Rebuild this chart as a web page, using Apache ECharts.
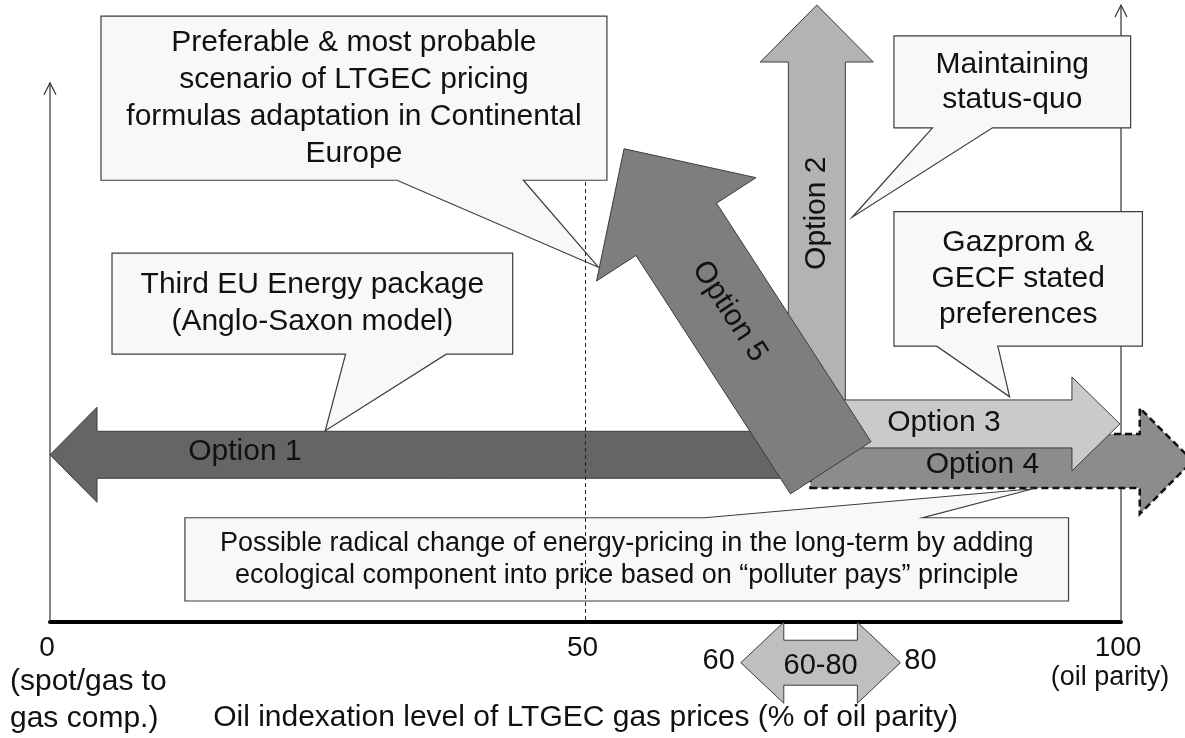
<!DOCTYPE html>
<html><head><meta charset="utf-8">
<script src="https://cdn.jsdelivr.net/npm/echarts@6/dist/echarts.min.js"></script>
<style>html,body{margin:0;padding:0;background:#fff}#c{width:1185px;height:738px}</style>
</head><body><div id="c"></div>
<script>
// ---------------- data ----------------
const xTicks = [0, 50, 100];
const xTickNotes = ['(spot/gas to\ngas comp.)', '', '(oil parity)'];
const xAxisTitle = 'Oil indexation level of LTGEC gas prices (% of oil parity)';
const benchmarkX = [50];
const axisReachY = [87.4, 100];            // left / right vertical axes reach
const optionNames  = ['Option 1', 'Option 4', 'Option 2', 'Option 3', 'Option 5'];
const optionStartX = [70.0, 71.0, 71.6, 68.9, 72.9];
const optionStartY = [27.1, 26.1, 28.2, 32.1, 25.0];
const optionEndX   = [0.0, 106.7, 71.6, 99.9, 53.6];
const optionEndY   = [27.1, 26.1, 100.0, 32.1, 76.7];
const rangeEnds  = [64.5, 79.4];
const rangeLevel = [-6.6];
const rangeLabels = ['60', '60-80', '80'];
const calloutTexts = [
  'Preferable & most probable\nscenario of LTGEC pricing\nformulas adaptation in Continental\nEurope',
  'Third EU Energy package\n(Anglo-Saxon model)',
  'Maintaining\nstatus-quo',
  'Gazprom &\nGECF stated\npreferences',
  'Possible radical change of energy-pricing in the long-term by adding\necological component into price based on \u201cpolluter pays\u201d principle'
];

// ---------------- layout & style (kept apart from the data) ----------------
const FONT = '"Liberation Sans", Arial, sans-serif';
const INK = '#111';
const EDGE = '#3c3c3c';
const ARROW_STYLE = [
  {fill: '#656565', shaft: 23.5, head: 47.5, headLen: 47, at: 0.74, dx: 0, dy: -3},
  {fill: '#8c8c8c', shaft: 27, head: 53, headLen: 53, at: 0.45, dx: 0, dy: 4, dashed: true},
  {fill: '#b3b3b3', shaft: 28.5, head: 56.5, headLen: 57, at: 0.53, dx: 0, dy: 0},
  {fill: '#cacaca', shaft: 24, head: 47, headLen: 48, at: 0.47, dx: 0, dy: -1},
  {fill: '#7e7e7e', shaft: 48, head: 95, headLen: 96, at: 0.49, dx: 0, dy: 0}
];
// callout boxes in data units: [left, top, right, bottom], pointer base x's, pointer tip
const CALLOUT_LAYOUT = [
  {box: [4.76, 98.2, 52.0, 71.6], base: [32.4, 44.2], tip: [51.2, 57.5], size: 30, lh: 37},
  {box: [5.79, 59.8, 43.2, 43.4], base: [27.6, 37.0], tip: [25.7, 31.0], size: 30, lh: 37},
  {box: [78.8, 95.0, 100.9, 80.1], base: [82.4, 88.0], tip: [74.9, 65.6], size: 30, lh: 35},
  {box: [78.8, 66.5, 102.0, 44.7], base: [82.8, 88.5], tip: [89.6, 36.5], size: 30, lh: 36},
  {box: [12.6, 16.9, 95.1, 3.4], base: [61.1, 81.5], tip: [91.8, 21.6], size: 27, lh: 32}
];

function arrowPoints(p0, p1, w, h, L) {
  const dx = p1[0] - p0[0], dy = p1[1] - p0[1];
  const len = Math.hypot(dx, dy);
  const ux = dx / len, uy = dy / len, nx = -uy, ny = ux;
  const bx = p1[0] - ux * L, by = p1[1] - uy * L;
  return [
    [p0[0] + nx * w, p0[1] + ny * w],
    [bx + nx * w, by + ny * w],
    [bx + nx * h, by + ny * h],
    [p1[0], p1[1]],
    [bx - nx * h, by - ny * h],
    [bx - nx * w, by - ny * w],
    [p0[0] - nx * w, p0[1] - ny * w]
  ];
}

const arrowData = optionNames.map((n, i) => [optionStartX[i], optionStartY[i], optionEndX[i], optionEndY[i]]);
const calloutData = calloutTexts.map((t, i) => [i]);

const chart = echarts.init(document.getElementById('c'));
chart.setOption({
  animation: false,
  backgroundColor: '#ffffff',
  grid: {left: 50, right: 64, top: 5, bottom: 116, containLabel: false, outerBoundsMode: 'none'},
  xAxis: {
    type: 'value', min: 0, max: 100, interval: 50,
    axisLine: {show: true, lineStyle: {color: '#000', width: 4}},
    axisTick: {show: false}, splitLine: {show: false},
    axisLabel: {
      show: true, margin: 12, showMinLabel: true, showMaxLabel: true,
      formatter: function (v) {
        const i = xTicks.indexOf(v);
        if (i < 0) return '';
        return (i === 2 && xTickNotes[2]) ? '{n|' + v + '}\n{s|' + xTickNotes[2] + '}' : '{n|' + v + '}';
      },
      rich: {
        n: {fontSize: 28, fontFamily: FONT, color: INK, lineHeight: 28, padding: [0, 6, 0, 0]},
        s: {fontSize: 27, fontFamily: FONT, color: INK, lineHeight: 32, padding: [0, 22, 0, 0]}
      }
    },
    name: xAxisTitle, nameLocation: 'middle', nameGap: 81,
    nameTextStyle: {fontSize: 30, fontFamily: FONT, color: INK}
  },
  yAxis: {type: 'value', min: 0, max: 100, show: false},
  series: [
    { // vertical axes with open arrowheads
      type: 'custom', z: 1, data: axisReachY.map((r, i) => [i === 0 ? 0 : 100, r]),
      encode: {x: 0, y: 1},
      renderItem: function (params, api) {
        const b = api.coord([api.value(0), 0]);
        const t = api.coord([api.value(0), api.value(1)]);
        const st = {stroke: '#333', lineWidth: 1.2, fill: null};
        return {type: 'group', children: [
          {type: 'line', shape: {x1: b[0], y1: b[1], x2: t[0], y2: t[1]}, style: st},
          {type: 'polyline', shape: {points: [[t[0] - 6, t[1] + 12], t, [t[0] + 6, t[1] + 12]]}, style: st}
        ]};
      }
    },
    { // option arrows
      type: 'custom', z: 2, data: arrowData, encode: {x: [0, 2], y: [1, 3]},
      renderItem: function (params, api) {
        const i = params.dataIndex, s = ARROW_STYLE[i];
        const p0 = api.coord([api.value(0), api.value(1)]);
        const p1 = api.coord([api.value(2), api.value(3)]);
        const pts = arrowPoints(p0, p1, s.shaft, s.head, s.headLen);
        let rx = p1[0] - p0[0], ry = p1[1] - p0[1];
        if (rx < -1e-6 || (Math.abs(rx) < 1e-6 && ry > 0)) { rx = -rx; ry = -ry; }
        const rot = -Math.atan2(ry, rx);
        const lx = p0[0] + (p1[0] - p0[0]) * s.at + s.dx;
        const ly = p0[1] + (p1[1] - p0[1]) * s.at + s.dy;
        return {type: 'group', children: [
          {type: 'polygon', shape: {points: pts},
            style: s.dashed ? {fill: s.fill, stroke: '#111', lineWidth: 2.5, lineDash: [7, 4]}
                            : {fill: s.fill, stroke: EDGE, lineWidth: 1}},
          {type: 'text', x: lx, y: ly, rotation: rot,
            style: {text: optionNames[i], fontSize: 30, fontFamily: FONT, fill: INK, align: 'center', verticalAlign: 'middle'}}
        ]};
      }
    },
    { // 60-80 double arrow below the axis
      type: 'custom', z: 2, data: [[rangeEnds[0], rangeEnds[1], rangeLevel[0]]], encode: {x: [0, 1], y: 2},
      renderItem: function (params, api) {
        const a = api.coord([api.value(0), api.value(2)]);
        const b = api.coord([api.value(1), api.value(2)]);
        const L = 43, h = 40.5, w = 22.5, y = a[1];
        const pts = [[a[0], y], [a[0] + L, y - h], [a[0] + L, y - w], [b[0] - L, y - w], [b[0] - L, y - h], [b[0], y],
                     [b[0] - L, y + h], [b[0] - L, y + w], [a[0] + L, y + w], [a[0] + L, y + h]];
        const ts = {fontSize: 29, fontFamily: FONT, fill: INK, verticalAlign: 'middle'};
        return {type: 'group', children: [
          {type: 'polygon', shape: {points: pts}, style: {fill: '#bfbfbf', stroke: EDGE, lineWidth: 1}},
          {type: 'text', x: a[0] - 6, y: y - 2, style: Object.assign({text: rangeLabels[0], align: 'right'}, ts)},
          {type: 'text', x: (a[0] + b[0]) / 2, y: y + 3, style: Object.assign({text: rangeLabels[1], align: 'center'}, ts)},
          {type: 'text', x: b[0] + 4, y: y - 2, style: Object.assign({text: rangeLabels[2], align: 'left'}, ts)}
        ]};
      }
    },
    { // note under tick 0
      type: 'custom', z: 2, data: [[xTicks[0], 0]], encode: {x: 0, y: 1},
      renderItem: function (params, api) {
        const p = api.coord([api.value(0), api.value(1)]);
        return {type: 'text', x: p[0] - 40, y: p[1] + 78,
          style: {text: xTickNotes[0], fontSize: 30, fontFamily: FONT, fill: INK, align: 'left', verticalAlign: 'middle', lineHeight: 37}};
      }
    },
    { // callouts
      type: 'custom', z: 3, data: calloutData, encode: {x: 0},
      renderItem: function (params, api) {
        const c = CALLOUT_LAYOUT[params.dataIndex];
        const tl = api.coord([c.box[0], c.box[1]]), br = api.coord([c.box[2], c.box[3]]);
        const b0 = api.coord([c.base[0], c.box[3]])[0], b1 = api.coord([c.base[1], c.box[3]])[0];
        const tip = api.coord(c.tip);
        let pts;
        if (tip[1] > br[1]) {
          pts = [[tl[0], tl[1]], [br[0], tl[1]], [br[0], br[1]], [b1, br[1]], tip, [b0, br[1]], [tl[0], br[1]]];
        } else {
          pts = [[tl[0], tl[1]], [b0, tl[1]], tip, [b1, tl[1]], [br[0], tl[1]], [br[0], br[1]], [tl[0], br[1]]];
        }
        return {type: 'group', children: [
          {type: 'polygon', shape: {points: pts}, style: {fill: '#f8f8f8', stroke: EDGE, lineWidth: 1.2}},
          {type: 'text', x: (tl[0] + br[0]) / 2, y: (tl[1] + br[1]) / 2,
            style: {text: calloutTexts[params.dataIndex], fontSize: c.size, fontFamily: FONT, fill: INK,
                    align: 'center', verticalAlign: 'middle', lineHeight: c.lh}}
        ]};
      }
    },
    { // dashed 50% reference line
      type: 'custom', z: 4, data: benchmarkX.map(v => [v, 0]), encode: {x: 0, y: 1},
      renderItem: function (params, api) {
        const b = api.coord([api.value(0), 0]);
        const t = api.coord([api.value(0), CALLOUT_LAYOUT[0].box[3]]);
        return {type: 'line', shape: {x1: b[0], y1: b[1] - 2, x2: t[0], y2: t[1]},
          style: {stroke: '#222', lineWidth: 1, lineDash: [4, 3]}};
      }
    }
  ]
});
</script>
</body></html>
